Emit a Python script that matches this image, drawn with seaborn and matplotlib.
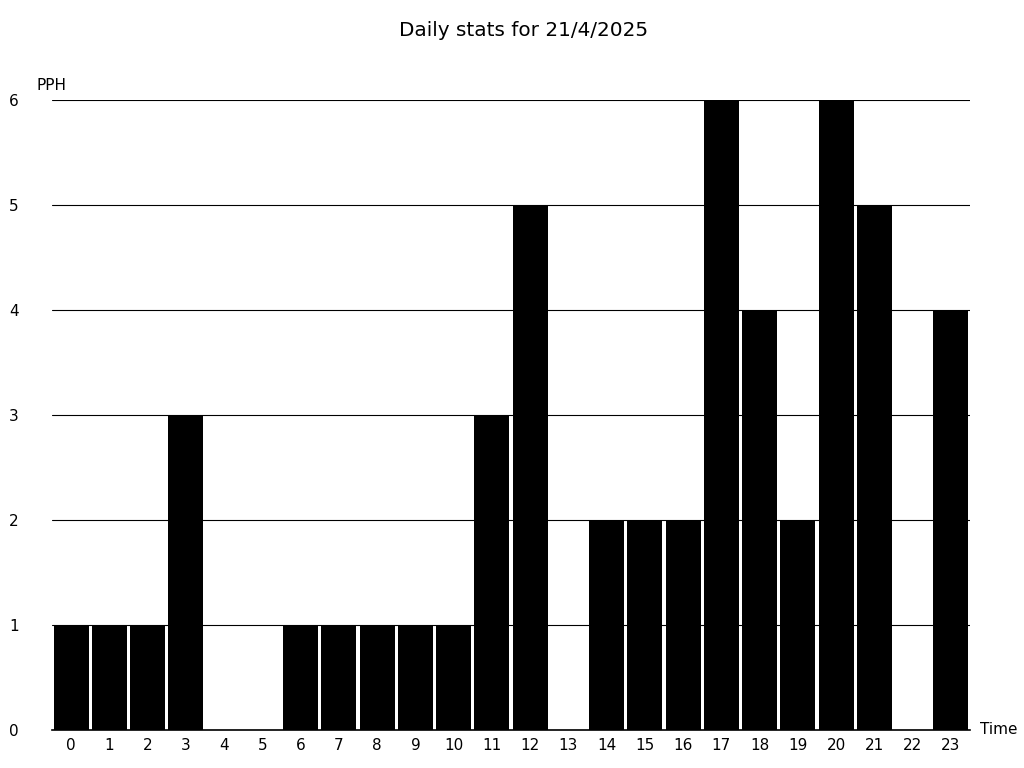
import matplotlib
matplotlib.use("Agg")
import matplotlib.pyplot as plt
import seaborn as sns
import pandas as pd

hours = [str(h) for h in range(24)]
pph = [1, 1, 1, 3, 0, 0, 1, 1, 1, 1, 1, 3, 5, 0, 2, 2, 2, 6, 4, 2, 6, 5, 0, 4]
title = "Daily stats for 21/4/2025"

sns.set_theme(style="white")
plt.rcParams['font.family'] = ['DejaVu Sans']

df = pd.DataFrame({"Time": hours, "PPH": pph})

fig = plt.figure(figsize=(10.24, 7.68), dpi=100)
ax = fig.add_axes([52/1024, 1 - 730/768, (970 - 52)/1024, (730 - 100)/768])
sns.barplot(data=df, x="Time", y="PPH", color="black", width=0.92,
            saturation=1, linewidth=0, edgecolor="none", ax=ax, zorder=2)
ax.set_xlim(-0.5, 23.5)
ax.set_ylim(0, 6)
ax.set_yticks(range(0, 7))
ax.yaxis.grid(True, color="black", linewidth=0.8)
ax.set_axisbelow(False)
for s in ["left", "right", "top"]:
    ax.spines[s].set_visible(False)
ax.spines["bottom"].set_color("black")
ax.spines["bottom"].set_linewidth(1.2)
ax.tick_params(axis="y", length=0, pad=31, labelsize=11, labelcolor="black")
ax.tick_params(axis="x", length=0, pad=6, labelsize=11, labelcolor="black")
for lbl in ax.get_yticklabels():
    lbl.set_horizontalalignment("left")
ax.set_xlabel("")
ax.set_ylabel("")
fig.text(37/1024, 1 - 85/768, "PPH", fontsize=11, ha="left", va="center", color="black")
fig.text(980/1024, 1 - 730/768, "Time", fontsize=11, ha="left", va="center", color="black")
fig.text(524/1024, 1 - 30/768, title, fontsize=14.4, ha="center", va="center", color="black")
fig.savefig("out.png", dpi=100)
